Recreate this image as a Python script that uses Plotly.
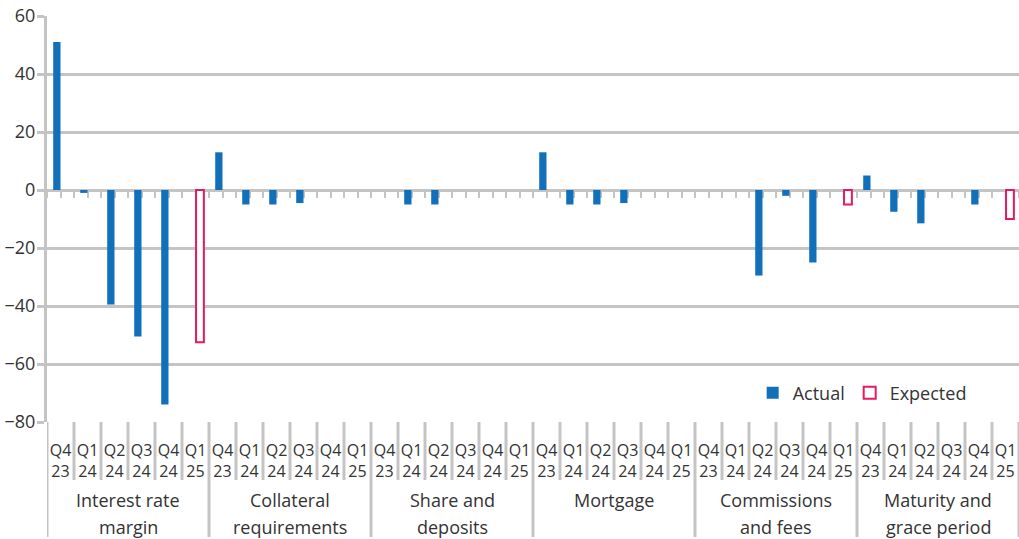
import plotly.graph_objects as go

# Survey categories and reporting quarters
groups = ["Interest rate<br>margin", "Collateral<br>requirements", "Share and<br>deposits",
          "Mortgage", "Commissions<br>and fees", "Maturity and<br>grace period"]
quarters = ["Q4<br>23", "Q1<br>24", "Q2<br>24", "Q3<br>24", "Q4<br>24", "Q1<br>25"]

# Actual net percentages (Q4 23 .. Q4 24) per group
actual = {
    "Interest rate<br>margin": [51, -1, -39.5, -50.5, -74],
    "Collateral<br>requirements": [13, -5, -5, -4.5, 0],
    "Share and<br>deposits": [0, -5, -5, 0, 0],
    "Mortgage": [13, -5, -5, -4.5, 0],
    "Commissions<br>and fees": [0, 0, -29.5, -2, -25],
    "Maturity and<br>grace period": [5, -7.5, -11.5, 0, -5],
}
# Expected net percentages for Q1 25 per group
expected = [-52.5, 0, 0, 0, -5, -10]

BLUE = "#1170b9"
PINK = "#e8195e"
GRID = "#c4c4c4"
TEXT = "#333333"
FONT = "Open Sans"

nq = len(quarters)
ng = len(groups)

xs_act, ys_act, xs_exp, ys_exp = [], [], [], []
for g, name in enumerate(groups):
    for q, v in enumerate(actual[name]):
        xs_act.append(g * nq + q)
        ys_act.append(v)
    if expected[g] != 0:
        xs_exp.append(g * nq + nq - 1)
        ys_exp.append(expected[g])

fig = go.Figure()
# Actual bars sit just left of each category centre, expected bars just right
fig.add_trace(go.Bar(x=xs_act, y=ys_act, name="Actual", width=0.27, offset=-0.27,
                     marker=dict(color=BLUE, line=dict(width=0))))
fig.add_trace(go.Bar(x=xs_exp, y=ys_exp, name="Expected", width=0.29, offset=0.02,
                     marker=dict(color="white", line=dict(color=PINK, width=2))))

# Small tick marks along the zero line at every half category
fig.add_trace(go.Scatter(x=[None], y=[None], xaxis="x2", showlegend=False))

plot_h = 406
q_line = 58 / plot_h
g_line = 115 / plot_h

shapes = []
for b in range(ng * nq + 1):
    is_group = b % nq == 0
    shapes.append(dict(type="line", xref="x", yref="paper",
                       x0=b - 0.5, x1=b - 0.5, y0=0, y1=-(g_line if is_group else q_line),
                       line=dict(color=GRID, width=3), layer="below"))

# Group names, one annotation per text line
annotations = []
line_centres = [78, 105]
for g, name in enumerate(groups):
    parts = name.split("<br>")
    centres = line_centres[:1] if len(parts) == 1 else line_centres
    for part, c in zip(parts, centres):
        annotations.append(dict(x=g * nq + (nq - 1) / 2, y=-c / plot_h, xref="x", yref="paper",
                                text=part, showarrow=False, xanchor="center", yanchor="middle",
                                font=dict(family=FONT, size=18, color=TEXT)))

fig.update_layout(
    width=1019, height=539,
    margin=dict(l=47, r=0, t=16, b=117),
    paper_bgcolor="white", plot_bgcolor="white",
    barmode="overlay",
    font=dict(family=FONT, color=TEXT),
    xaxis=dict(type="linear", range=[-0.5, ng * nq - 0.5],
               tickmode="array", tickvals=list(range(ng * nq)), ticktext=quarters * ng,
               ticks="", showgrid=False, zeroline=False, showline=False,
               tickfont=dict(family=FONT, size=16, color=TEXT), ticklabelstandoff=17),
    xaxis2=dict(type="linear", range=[-0.5, ng * nq - 0.5], overlaying="x", anchor="free",
                position=80 / 140, side="bottom", tickmode="linear", tick0=-0.5, dtick=0.5,
                ticks="outside", ticklen=7, tickwidth=2, tickcolor=GRID, layer="below traces",
                showticklabels=False, showgrid=False, zeroline=False, showline=False),
    yaxis=dict(range=[-80, 60], tickmode="linear", tick0=-80, dtick=20,
               showgrid=True, gridcolor=GRID, gridwidth=3,
               zeroline=True, zerolinecolor=GRID, zerolinewidth=3,
               showline=True, linecolor=GRID, linewidth=3,
               ticks="outside", ticklen=7, tickwidth=3, tickcolor=GRID,
               tickfont=dict(family=FONT, size=18, color=TEXT), ticklabelstandoff=-2),
    legend=dict(orientation="h", x=0.726, y=0.0714, xanchor="left", yanchor="middle",
                bgcolor="rgba(0,0,0,0)", font=dict(family=FONT, size=18, color=TEXT),
                itemwidth=30),
    shapes=shapes,
    annotations=annotations,
)

fig.write_html("out.html")
